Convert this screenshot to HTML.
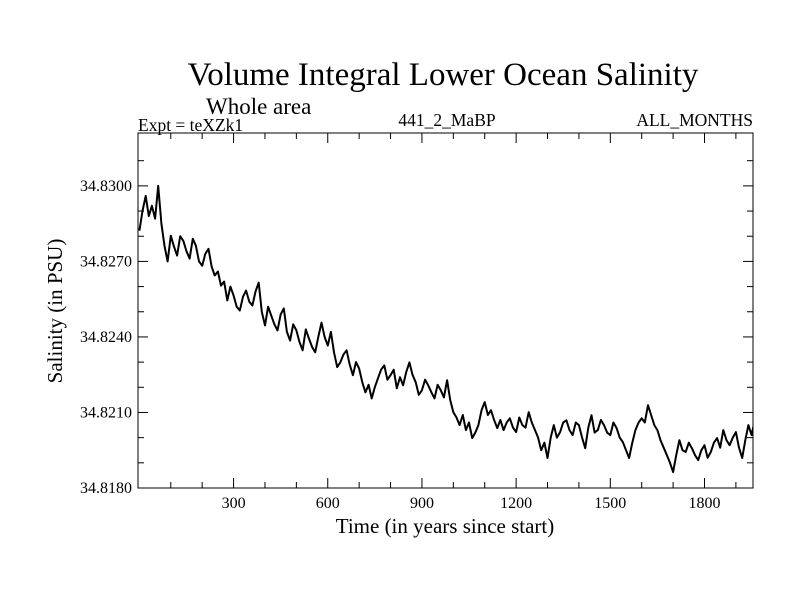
<!DOCTYPE html>
<html><head><meta charset="utf-8"><style>
body{margin:0;background:#fff}
svg text{font-family:"Liberation Serif",serif;fill:#000}
</style></head><body>
<svg id="chart" width="800" height="600" xmlns="http://www.w3.org/2000/svg">
<rect width="800" height="600" fill="#fff"/>
<text x="443" y="85" font-size="33" text-anchor="middle">Volume Integral Lower Ocean Salinity</text>
<text x="206" y="114" font-size="23">Whole area</text>
<text x="138" y="131" font-size="17.5">Expt = teXZk1</text>
<text x="447" y="126" font-size="17.5" text-anchor="middle">441_2_MaBP</text>
<text x="753" y="126" font-size="17.5" text-anchor="end">ALL_MONTHS</text>
<text transform="translate(62,311) rotate(-90)" font-size="21" text-anchor="middle">Salinity (in PSU)</text>
<text x="445" y="533" font-size="21" text-anchor="middle">Time (in years since start)</text>
<g id="axes"></g>
<clipPath id="clip"><rect x="138" y="133" width="615" height="355"/></clipPath>
<g clip-path="url(#clip)"><path id="series" fill="none" stroke="#000" stroke-width="2" stroke-linejoin="round"/></g>
<rect x="138" y="133" width="615" height="355" fill="none" stroke="#000" stroke-width="1"/>
</svg>
<script>
const yearStep = 10;
const salinity = [34.82822,34.82900,34.82960,34.82880,34.82921,34.82870,34.83000,34.82850,34.82762,34.82700,
34.82802,34.82760,34.82723,34.82800,34.82782,34.82740,34.82711,34.82790,34.82762,34.82700,
34.82683,34.82730,34.82750,34.82680,34.82644,34.82660,34.82604,34.82620,34.82545,34.82600,
34.82564,34.82520,34.82505,34.82560,34.82584,34.82540,34.82525,34.82580,34.82616,34.82500,
34.82446,34.82520,34.82485,34.82450,34.82426,34.82490,34.82513,34.82420,34.82386,34.82450,
34.82426,34.82380,34.82347,34.82430,34.82394,34.82360,34.82339,34.82400,34.82457,34.82400,
34.82366,34.82420,34.82339,34.82280,34.82299,34.82330,34.82347,34.82290,34.82248,34.82300,
34.82275,34.82220,34.82180,34.82210,34.82156,34.82200,34.82236,34.82270,34.82287,34.82230,
34.82248,34.82270,34.82196,34.82240,34.82208,34.82260,34.82299,34.82250,34.82220,34.82170,
34.82188,34.82230,34.82208,34.82180,34.82156,34.82210,34.82188,34.82160,34.82228,34.82150,
34.82101,34.82080,34.82050,34.82090,34.82030,34.82060,34.81998,34.82020,34.82050,34.82110,
34.82141,34.82090,34.82109,34.82070,34.82038,34.82070,34.82030,34.82060,34.82077,34.82040,
34.82022,34.82080,34.82050,34.82040,34.82101,34.82060,34.82030,34.82000,34.81950,34.81980,
34.81919,34.82000,34.82050,34.82000,34.82022,34.82060,34.82069,34.82030,34.82010,34.82060,
34.82050,34.82000,34.81958,34.82040,34.82089,34.82020,34.82030,34.82070,34.82050,34.82020,
34.82010,34.82060,34.82038,34.82000,34.81982,34.81950,34.81919,34.81980,34.82030,34.82060,
34.82077,34.82060,34.82129,34.82090,34.82050,34.82030,34.81990,34.81960,34.81931,34.81900,
34.81863,34.81930,34.81990,34.81950,34.81943,34.81980,34.81958,34.81930,34.81911,34.81950,
34.81970,34.81920,34.81943,34.81980,34.81998,34.81960,34.82030,34.81990,34.81970,34.82000,
34.82022,34.81960,34.81919,34.81990,34.82050,34.82010,34.82069];
const xTickLabels = ["300","600","900","1200","1500","1800"];
const yTickLabels = ["34.8180","34.8210","34.8240","34.8270","34.8300"];

const X0=138,X1=753,Y0=133,Y1=488;
const xMin=-4.4, xMax=1954.5, yMin=34.8180, yMax=34.83210;
function xs(v){return X0+(v-xMin)/(xMax-xMin)*(X1-X0);}
function ys(v){return Y1-(v-yMin)/(yMax-yMin)*(Y1-Y0);}
const NS="http://www.w3.org/2000/svg";
const axes=document.getElementById('axes');
function line(x1,y1,x2,y2,name){const l=document.createElementNS(NS,'line');
l.setAttribute('x1',x1);l.setAttribute('y1',y1);l.setAttribute('x2',x2);l.setAttribute('y2',y2);
l.setAttribute('stroke','#000');l.setAttribute('stroke-width','1');


axes.appendChild(l);}
function txt(x,y,s,anchor,name){const t=document.createElementNS(NS,'text');
t.setAttribute('x',x);t.setAttribute('y',y);t.setAttribute('font-size','16');t.setAttribute('text-anchor',anchor);t.textContent=s;


axes.appendChild(t);}
for(let v=100;v<xMax;v+=100){const x=xs(v);const L=(v%300===0)?10:6;
line(x,Y1,x,Y1-L,'x-tick');line(x,Y0,x,Y0+L,'x-tick-top');}
xTickLabels.forEach(s=>{txt(xs(+s),508,s,'middle','x-tick-label');});
for(let i=0;i<=13;i++){const v=yMin+i*0.001;if(v>yMax)break;const y=ys(v);const L=(i%3===0)?10:6;
line(X0,y,X0+L,y,'y-tick');line(X1,y,X1-L,y,'y-tick-right');}
yTickLabels.forEach(s=>{txt(132,ys(+s)+5,s,'end','y-tick-label');});
let d='';salinity.forEach((v,i)=>{d+=(i?'L':'M')+xs(i*yearStep).toFixed(1)+' '+ys(v).toFixed(1);});
document.getElementById('series').setAttribute('d',d);
</script>
</body></html>
